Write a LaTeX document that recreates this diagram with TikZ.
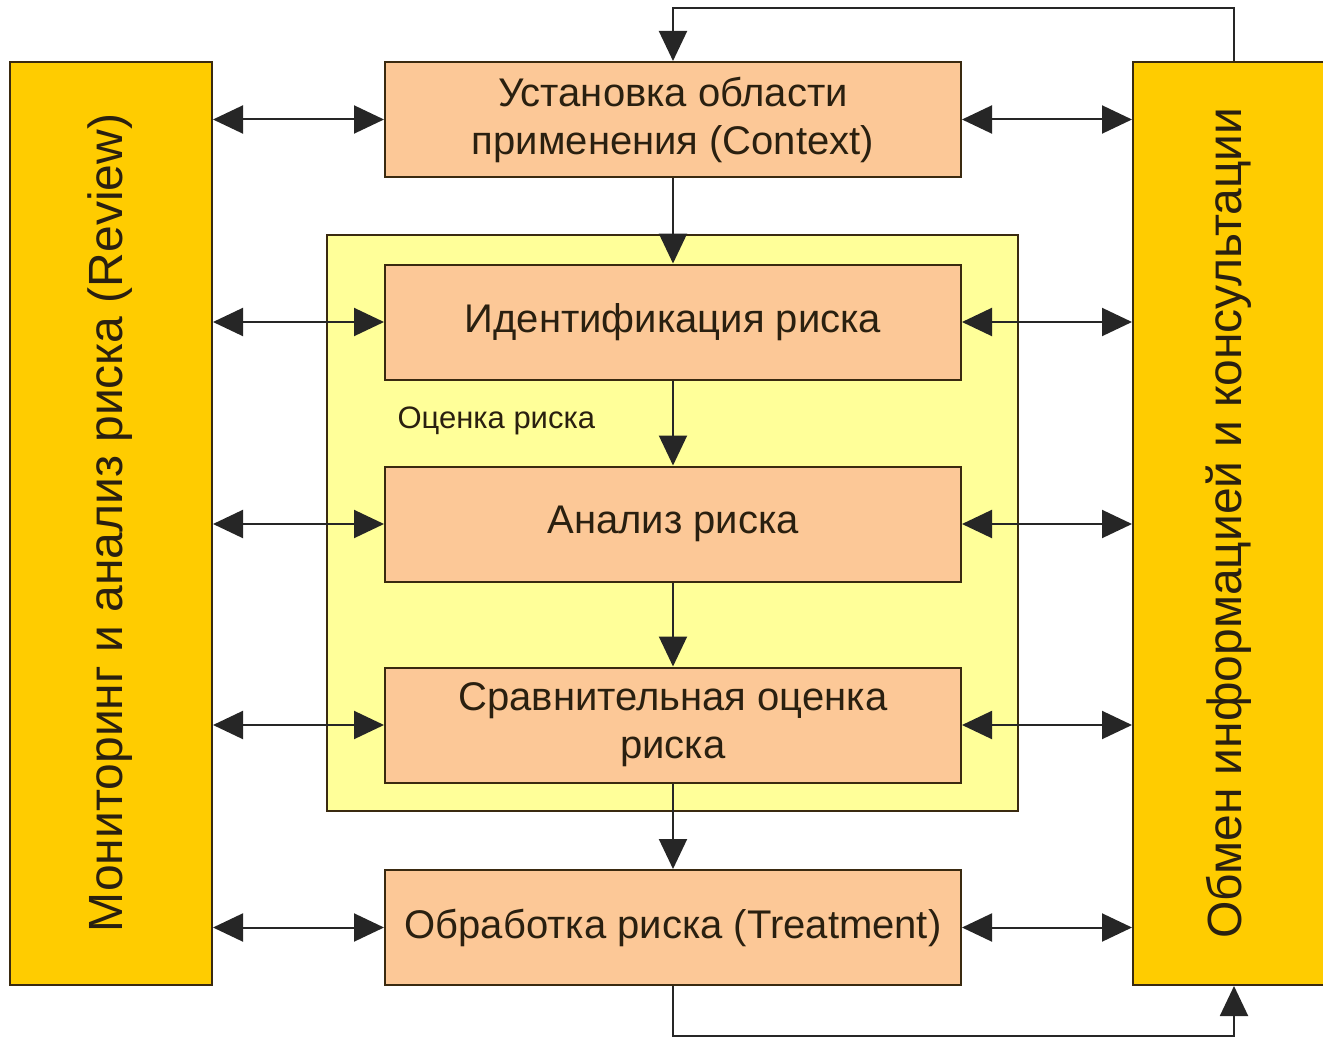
\documentclass[tikz,border=0pt]{standalone}
\usepackage{fontspec}
\setmainfont{Liberation Sans}
\usetikzlibrary{arrows.meta}
\definecolor{barfill}{HTML}{FFCC00}
\definecolor{boxfill}{HTML}{FCC897}
\definecolor{zonefill}{HTML}{FFFF99}
\definecolor{edge}{HTML}{3A2A10}
\definecolor{txt}{HTML}{2A2010}
\tikzset{
  bar/.style={draw=edge, line width=2pt, fill=barfill, minimum width=202pt, minimum height=923pt, inner sep=0pt},
  stepbox/.style={draw=edge, line width=2pt, fill=boxfill, minimum width=576pt, minimum height=115pt, inner sep=0pt, align=center, text=txt, font=\fontsize{40}{48}\selectfont},
  zone/.style={draw=edge, line width=1.5pt, fill=zonefill, minimum width=691pt, minimum height=576pt, inner sep=0pt},
  conn/.style={line width=2pt, draw=black!85},
  tip/.style={-{Triangle[length=30pt,width=28pt]}},
  dtip/.style={{Triangle[length=30pt,width=28pt]}-{Triangle[length=30pt,width=28pt]}},
  vtext/.style={rotate=90, text=txt, font=\fontsize{48}{56}\selectfont}
}
\begin{document}
\begin{tikzpicture}[x=1pt,y=-1pt]
\useasboundingbox (0,0) rectangle (1323,1038);
% zone
\node[zone] (zone) at (672.5,523) {};
\node[anchor=west, text=txt, font=\fontsize{31}{36}\selectfont] (zlabel) at (394,421) {Оценка риска};
% side bars
\node[bar] (left) at (111,523.5) {};
\node[bar] (right) at (1234,523.5) {};
\node[vtext] (ltext) at (110,523) {Мониторинг и анализ риска (Review)};
\node[vtext] (rtext) at (1229,523) {Обмен информацией и консультации};
% steps
\node[stepbox] (ctx) at (673,119.5) {Установка области\\применения (Context)};
\node[stepbox] (ident) at (673,322) {Идентификация риска};
\node[stepbox] (anal) at (673,524) {Анализ риска};
\node[stepbox] (eval) at (673,725) {Сравнительная оценка\\риска};
\node[stepbox] (treat) at (673,927.5) {Обработка риска (Treatment)};
% vertical flow
\draw[conn,tip] (ctx.south) -- (ident.north);
\draw[conn,tip] (ident.south) -- (anal.north);
\draw[conn,tip] (anal.south) -- (eval.north);
\draw[conn,tip] (eval.south) -- (treat.north);
% horizontal double arrows
\foreach \n in {ctx,ident,anal,eval,treat}{
  \draw[conn,dtip] (left.east |- \n.west) -- (\n.west);
  \draw[conn,dtip] (\n.east) -- (right.west |- \n.east);
}
% feedback loops
\coordinate (topr) at (1234,8);
\coordinate (topl) at (673,8);
\draw[conn,tip] (right.north) -- (topr) -- (topl) -- (ctx.north);
\coordinate (botl) at (673,1036);
\coordinate (botr) at (1234,1036);
\draw[conn,tip] (treat.south) -- (botl) -- (botr) -- (right.south);
\end{tikzpicture}
\end{document}
